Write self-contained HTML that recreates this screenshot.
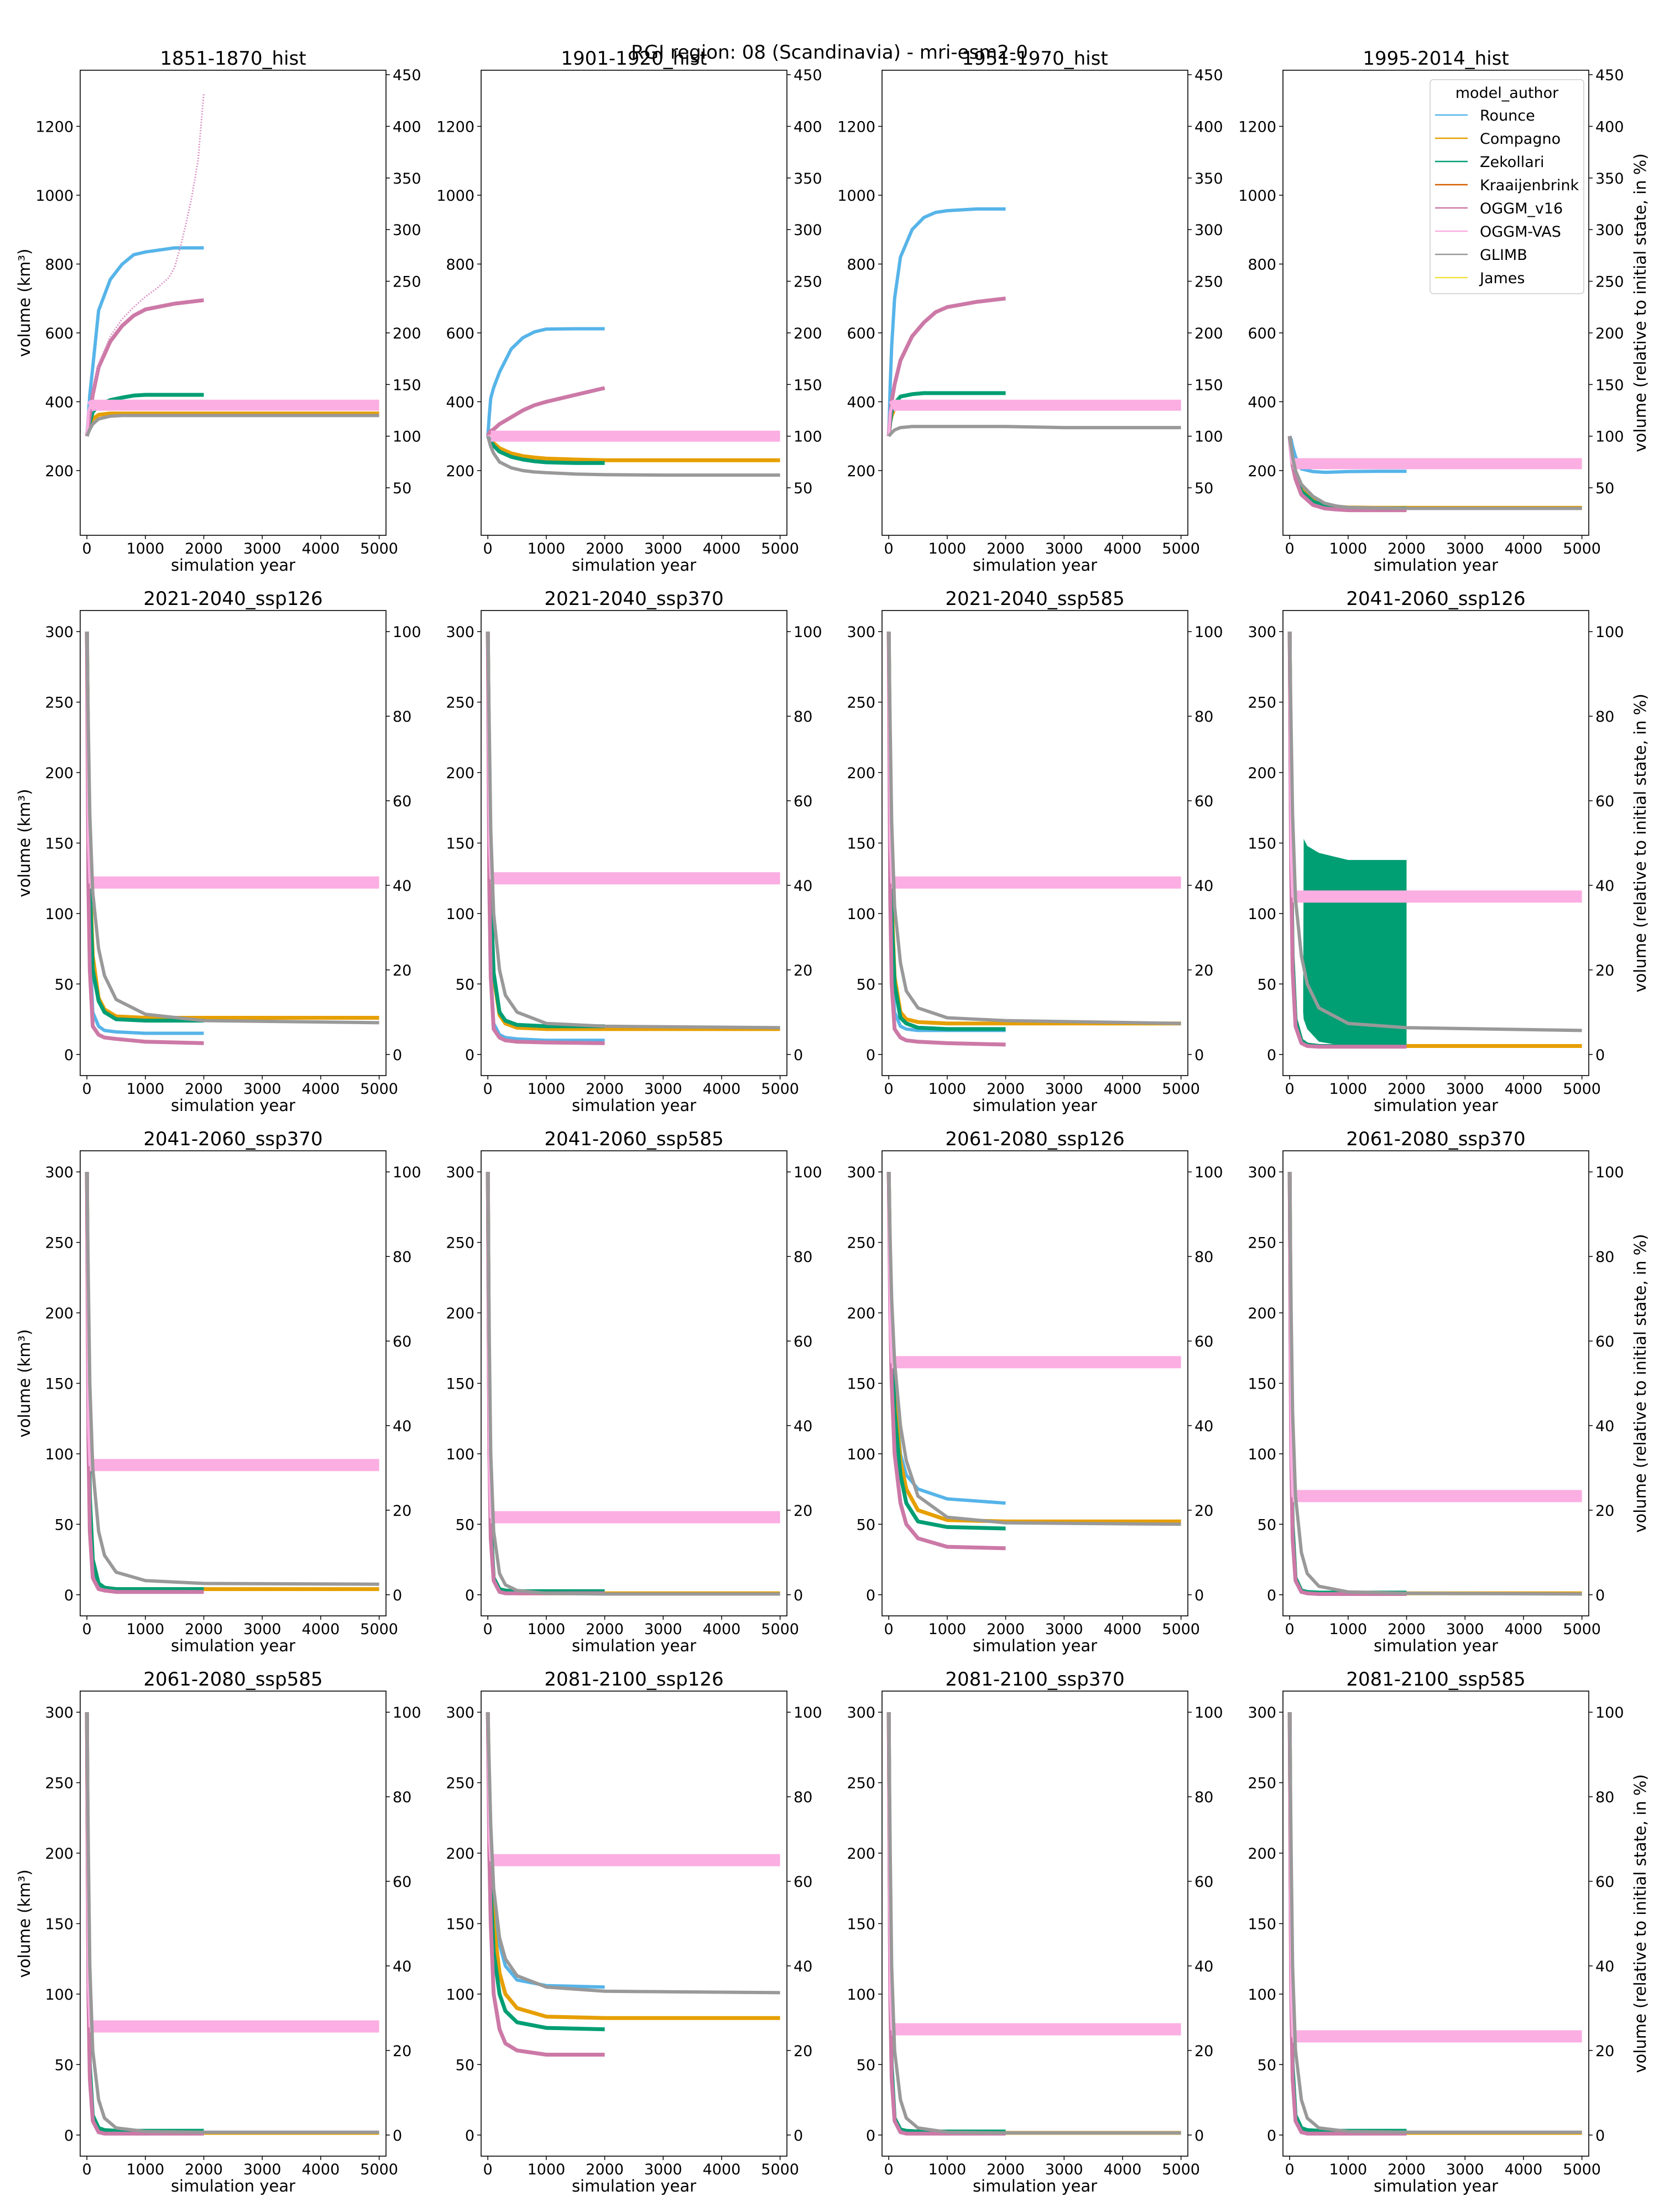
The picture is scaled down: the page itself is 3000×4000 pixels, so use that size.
<!DOCTYPE html>
<html><head><meta charset="utf-8"><style>
html,body{margin:0;padding:0;background:#fff;}
svg{display:block;font-family:"DejaVu Sans","Liberation Sans",sans-serif;}
</style></head><body>
<svg id="fig" xmlns="http://www.w3.org/2000/svg" width="3000" height="4000" viewBox="0 0 3000 4000">
<rect x="0" y="0" width="3000" height="4000" fill="#fff"/>
<text x="1500" y="106" font-size="34" text-anchor="middle">RGI region: 08 (Scandinavia) - mri-esm2-0</text>
</svg>
<script>
const panelTitles = ["1851-1870_hist","1901-1920_hist","1951-1970_hist","1995-2014_hist",
"2021-2040_ssp126","2021-2040_ssp370","2021-2040_ssp585","2041-2060_ssp126",
"2041-2060_ssp370","2041-2060_ssp585","2061-2080_ssp126","2061-2080_ssp370",
"2061-2080_ssp585","2081-2100_ssp126","2081-2100_ssp370","2081-2100_ssp585"];
const modelNames = ["Rounce","Compagno","Zekollari","Kraaijenbrink","OGGM_v16","OGGM-VAS","GLIMB","James"];
const xTicks = [0,1000,2000,3000,4000,5000];
const leftTicksHist = [200,400,600,800,1000,1200];
const rightTicksHist = [50,100,150,200,250,300,350,400,450];
const leftTicksFut = [0,50,100,150,200,250,300];
const rightTicksFut = [0,20,40,60,80,100];
const yearsHist = [0,25,50,100,200,400,600,800,1000,1500,2000,3000,5000];
const yearsFut = [0,25,50,100,200,300,500,1000,2000,5000];
const rounceVals = [
[300,360,420,500,665,755,799,827,835,847,847],
[300,360,410,441,486,553,586,603,611,612,612],
[300,450,560,700,820,900,935,950,955,960,960],
[300,290,270,240,205,197,195,196,197,198,198],
[300,150,80,30,20,17,16,15,15],
[300,130,60,22,14,12,11,10,10],
[300,140,70,30,20,18,17,17,17],
[300,140,65,22,8,6,5.5,5.5,5.5],
[300,120,50,15,5,3,2,2,2],
[300,100,40,10,2,1,1,1,1],
[300,240,200,150,100,85,75,68,65],
[300,100,40,10,2,1,0.5,0.5,0.5],
[300,100,40,10,3,2,1.5,1.5,1.5],
[300,250,210,170,135,120,110,106,105],
[300,100,40,10,2,1,1,1,1],
[300,100,40,10,3,2,1.5,1.5,1.5]];
const compagnoVals = [
[300,320,335,350,362,366,366,366,366,366,366,366,366],
[300,295,290,280,265,250,242,238,235,232,230,230,230],
[300,340,360,380,390,392,392,392,392,392,392,392,392],
[300,260,230,190,150,115,100,95,93,92,92,92,92],
[300,200,130,70,40,32,27,26,26,26],
[300,190,110,55,28,22,19,18,18,18],
[300,190,110,55,30,25,23,22,22,22],
[300,150,70,25,10,7,6,6,6,6],
[300,150,70,25,8,5,4,4,4,4],
[300,120,50,12,3,1.5,1,1,1,1],
[300,230,190,140,95,75,60,53,52,52],
[300,120,50,12,3,1.5,1,1,1,1],
[300,110,45,12,3,2,1.5,1.5,1.5,1.5],
[300,240,195,150,115,100,90,84,83,83],
[300,110,45,12,3,2,1.5,1.5,1.5,1.5],
[300,110,45,12,3,2,1.5,1.5,1.5,1.5]];
const zekollariVals = [
[300,320,340,370,390,405,412,418,420,420,420],
[300,292,285,272,255,240,232,227,224,222,222],
[300,340,370,395,415,422,425,425,425,425,425],
[300,255,220,185,140,110,97,92,90,90,90],
[300,190,120,60,38,30,25,24,24],
[300,190,115,58,30,24,21,20,20],
[300,180,100,50,26,22,19,18,18],
[300,150,70,25,10,7,6,6,6],
[300,150,70,25,8,5,4,4,4],
[300,120,50,12,4,3,2.5,2.5,2.5],
[300,220,180,130,85,65,52,48,47],
[300,120,50,12,3,2,1.5,1.5,1.5],
[300,120,50,14,5,3.5,3,3,3],
[300,220,175,130,100,88,80,76,75],
[300,120,50,12,4,3,2.5,2.5,2.5],
[300,120,50,14,5,3.5,3,3,3]];
const oggmVals = [
[300,330,360,420,500,575,620,650,668,685,695],
[300,310,315,320,335,355,375,390,400,420,440],
[300,360,400,450,520,590,630,660,675,690,700],
[300,250,215,175,130,100,90,87,85,85,85],
[300,120,60,20,14,12,11,9,8],
[300,120,55,18,12,10,9,8.5,8],
[300,110,50,18,12,10,9,8,7],
[300,130,60,20,8,6,5.5,5.5,5.5],
[300,110,45,12,4,3,2,2,2],
[300,100,40,10,2,1,1,1,1],
[300,200,150,100,65,50,40,34,33],
[300,100,40,10,2,1,0.5,0.5,0.5],
[300,100,40,10,2,1,1,1,1],
[300,200,150,100,75,65,60,57,57],
[300,100,40,10,2,1,1,1,1],
[300,100,40,10,2,1,1,1,1]];
const vasVals = [
[300,370,385,390,390,390,390,390,390,390,390,390,390],
[300,300,300,300,300,300,300,300,300,300,300,300,300],
[300,370,385,390,390,390,390,390,390,390,390,390,390],
[300,230,220,220,220,220,220,220,220,220,220,220,220],
[300,150,122,122,122,122,122,122,122,122],
[300,150,125,125,125,125,125,125,125,125],
[300,150,122,122,122,122,122,122,122,122],
[300,140,112,112,112,112,112,112,112,112],
[300,120,92,92,92,92,92,92,92,92],
[300,90,55,55,55,55,55,55,55,55],
[300,190,165,165,165,165,165,165,165,165],
[300,100,70,70,70,70,70,70,70,70],
[300,105,77,77,77,77,77,77,77,77],
[300,210,195,195,195,195,195,195,195,195],
[300,100,75,75,75,75,75,75,75,75],
[300,100,70,70,70,70,70,70,70,70]];
const glimbVals = [
[300,310,320,335,350,358,360,360,360,360,360,360,360],
[300,285,270,250,225,208,200,196,194,190,188,187,187],
[300,305,310,318,325,328,328,328,328,328,328,325,325],
[300,270,240,200,160,125,105,97,93,91,90,90,90],
[300,230,170,115,75,56,39,28.5,24,22.5],
[300,230,160,100,60,42,30,22,20,19],
[300,230,165,105,65,45,33,26,24,22],
[300,230,170,110,70,50,33,22,19,17],
[300,220,150,90,45,28,16,10,8,7.5],
[300,180,100,45,15,7,3,1,0.5,0.5],
[300,250,210,165,120,95,70,55,51,50],
[300,200,130,70,30,15,6,2,1,0.5],
[300,200,120,60,25,12,5,2.5,2,2],
[300,260,220,175,140,125,113,105,102,101],
[300,200,120,60,25,12,5,2,1.5,1.5],
[300,200,120,60,25,12,5,2.5,2,2]];
const oggmAltYears = [0,100,200,400,600,800,1000,1200,1400,1500,1600,1700,1800,1900,2000];
const oggmAltVals = [300,420,510,590,640,675,705,730,760,790,850,920,1000,1100,1295];
const bandYears = [230,240,300,500,800,1000,2000];
const bandTop = [30,153,148,143,140,138,138];
const bandBottom = [30,25,18,9,7,6,6];

const NS = "http://www.w3.org/2000/svg";
const svg = document.getElementById("fig");
const colL = [145,870,1595,2320], rowT = [127,1104,2081,3058], PW = 553, PH = 841;
const XMIN = -115, XMAX = 5117;
function mk(tag, attrs, parent){ const e = document.createElementNS(NS, tag); for (const k in attrs) e.setAttribute(k, attrs[k]); (parent||svg).appendChild(e); return e; }
function xs(c, yr){ return colL[c] + (yr - XMIN) / (XMAX - XMIN) * PW; }
function yrange(r){ return r === 0 ? [12, 1363] : [-15, 315]; }
function ys(r, v){ const [lo, hi] = yrange(r); return rowT[r] + (hi - v) / (hi - lo) * PH; }
function pts(c, r, yrs, vals){ return vals.map((v,i)=> xs(c, yrs[i]).toFixed(1) + "," + ys(r, v).toFixed(1)).join(" "); }

const colors = {Rounce:"#56B4E9",Compagno:"#E69F00",Zekollari:"#009E73",Kraaijenbrink:"#D55E00",OGGM_v16:"#CC79A7","OGGM-VAS":"#FBAEE2",GLIMB:"#999999",James:"#F0E442"};
const series = [["Rounce",rounceVals,6],["Compagno",compagnoVals,7],["Zekollari",zekollariVals,7],["OGGM_v16",oggmVals,7],["OGGM-VAS",vasVals,5],["GLIMB",glimbVals,6]];

for (let p = 0; p < 16; p++) {
  const r = Math.floor(p / 4), c = p % 4;
  const L = colL[c], T = rowT[r], R = L + PW, B = T + PH;
  const g = mk("g", {});
  
  
  const cp = mk("clipPath", {id: "cp" + p}, g);
  mk("rect", {x: L, y: T, width: PW, height: PH}, cp);
  const t = mk("text", {x: L + PW/2, y: T - 10, "font-size": 34, "text-anchor": "middle"}, g);
  t.textContent = panelTitles[p];
  
  
  const yrs = r === 0 ? yearsHist : yearsFut;
  const lines = mk("g", {"clip-path": "url(#cp" + p + ")"}, g);
  
  
  const pinkW = r === 0 ? 20 : 22;
  for (const [name, arr, w] of series) {
    const vals = arr[p];
    const pl = mk("polyline", {points: pts(c, r, yrs, vals), fill: "none", stroke: colors[name], "stroke-width": w, "stroke-linejoin": "round"}, lines);
    
    
    if (name === "OGGM-VAS") {
      const band = mk("polyline", {points: pts(c, r, yrs.slice(2), vals.slice(2)), fill: "none", stroke: colors[name], "stroke-width": pinkW, "stroke-linejoin": "round"}, lines);
      
      
    }
    if (name === "Zekollari" && p === 7) {
      const top = bandYears.map((y,i)=> xs(c,y).toFixed(1)+","+ys(r,bandTop[i]).toFixed(1));
      const bot = bandYears.map((y,i)=> xs(c,y).toFixed(1)+","+ys(r,bandBottom[i]).toFixed(1)).reverse();
      const band = mk("polygon", {points: top.concat(bot).join(" "), fill: colors.Zekollari}, lines);
      
      
    }
    if (name === "OGGM_v16" && p === 0) {
      const alt = mk("polyline", {points: pts(c, r, oggmAltYears, oggmAltVals), fill: "none", stroke: "#D98BC0", "stroke-width": 3, "stroke-dasharray": "2,3"}, lines);
      
      
    }
  }
  const fr = mk("rect", {x: L, y: T, width: PW, height: PH, fill: "none", stroke: "#000", "stroke-width": 1.6}, g);
  
  
  for (const xt of xTicks) {
    const X = xs(c, xt);
    mk("line", {x1: X, y1: B, x2: X, y2: B + 7, stroke: "#000", "stroke-width": 1.5}, g);
    const tl = mk("text", {x: X, y: B + 33, "font-size": 27, "text-anchor": "middle"}, g);
    tl.textContent = xt;
    
    
  }
  const xl = mk("text", {x: L + PW/2, y: B + 64, "font-size": 29, "text-anchor": "middle"}, g);
  xl.textContent = "simulation year";
  
  
  const lt = r === 0 ? leftTicksHist : leftTicksFut;
  for (const v of lt) {
    const Y = ys(r, v);
    mk("line", {x1: L - 7, y1: Y, x2: L, y2: Y, stroke: "#000", "stroke-width": 1.5}, g);
    const tl = mk("text", {x: L - 12, y: Y + 10, "font-size": 27, "text-anchor": "end"}, g);
    tl.textContent = v;
    
    
  }
  const rt = r === 0 ? rightTicksHist : rightTicksFut;
  for (const v of rt) {
    const Y = ys(r, v * 3);
    mk("line", {x1: R, y1: Y, x2: R + 7, y2: Y, stroke: "#000", "stroke-width": 1.5}, g);
    const tl = mk("text", {x: R + 12, y: Y + 10, "font-size": 27, "text-anchor": "start"}, g);
    tl.textContent = v;
    
    
  }
  if (c === 0) {
    const yl = mk("text", {x: 0, y: 0, "font-size": 29, "text-anchor": "middle", transform: "translate(54," + (T + PH/2) + ") rotate(-90)"}, g);
    yl.textContent = "volume (km³)";
    
    
  }
  if (c === 3) {
    const yl = mk("text", {x: 0, y: 0, "font-size": 29, "text-anchor": "middle", transform: "translate(2976," + (T + PH/2) + ") rotate(-90)"}, g);
    yl.textContent = "volume (relative to initial state, in %)";
    
    
  }
}
const lg = mk("g", {});


const LX = 2586, LY = 144;
mk("rect", {x: LX, y: LY, width: 278, height: 387, rx: 6, fill: "#fff", "fill-opacity": 0.85, stroke: "#ccc", "stroke-width": 1.5}, lg);
const lt0 = mk("text", {x: LX + 139, y: LY + 33, "font-size": 27, "text-anchor": "middle"}, lg);
lt0.textContent = "model_author";


modelNames.forEach((m, i) => {
  const y = LY + 64 + i * 42;
  const e = mk("g", {}, lg);
  
  
  mk("line", {x1: LX + 9, y1: y, x2: LX + 68, y2: y, stroke: colors[m], "stroke-width": 2.5}, e);
  const tx = mk("text", {x: LX + 90, y: y + 10, "font-size": 27}, e);
  tx.textContent = m;
});
</script>
</body></html>
